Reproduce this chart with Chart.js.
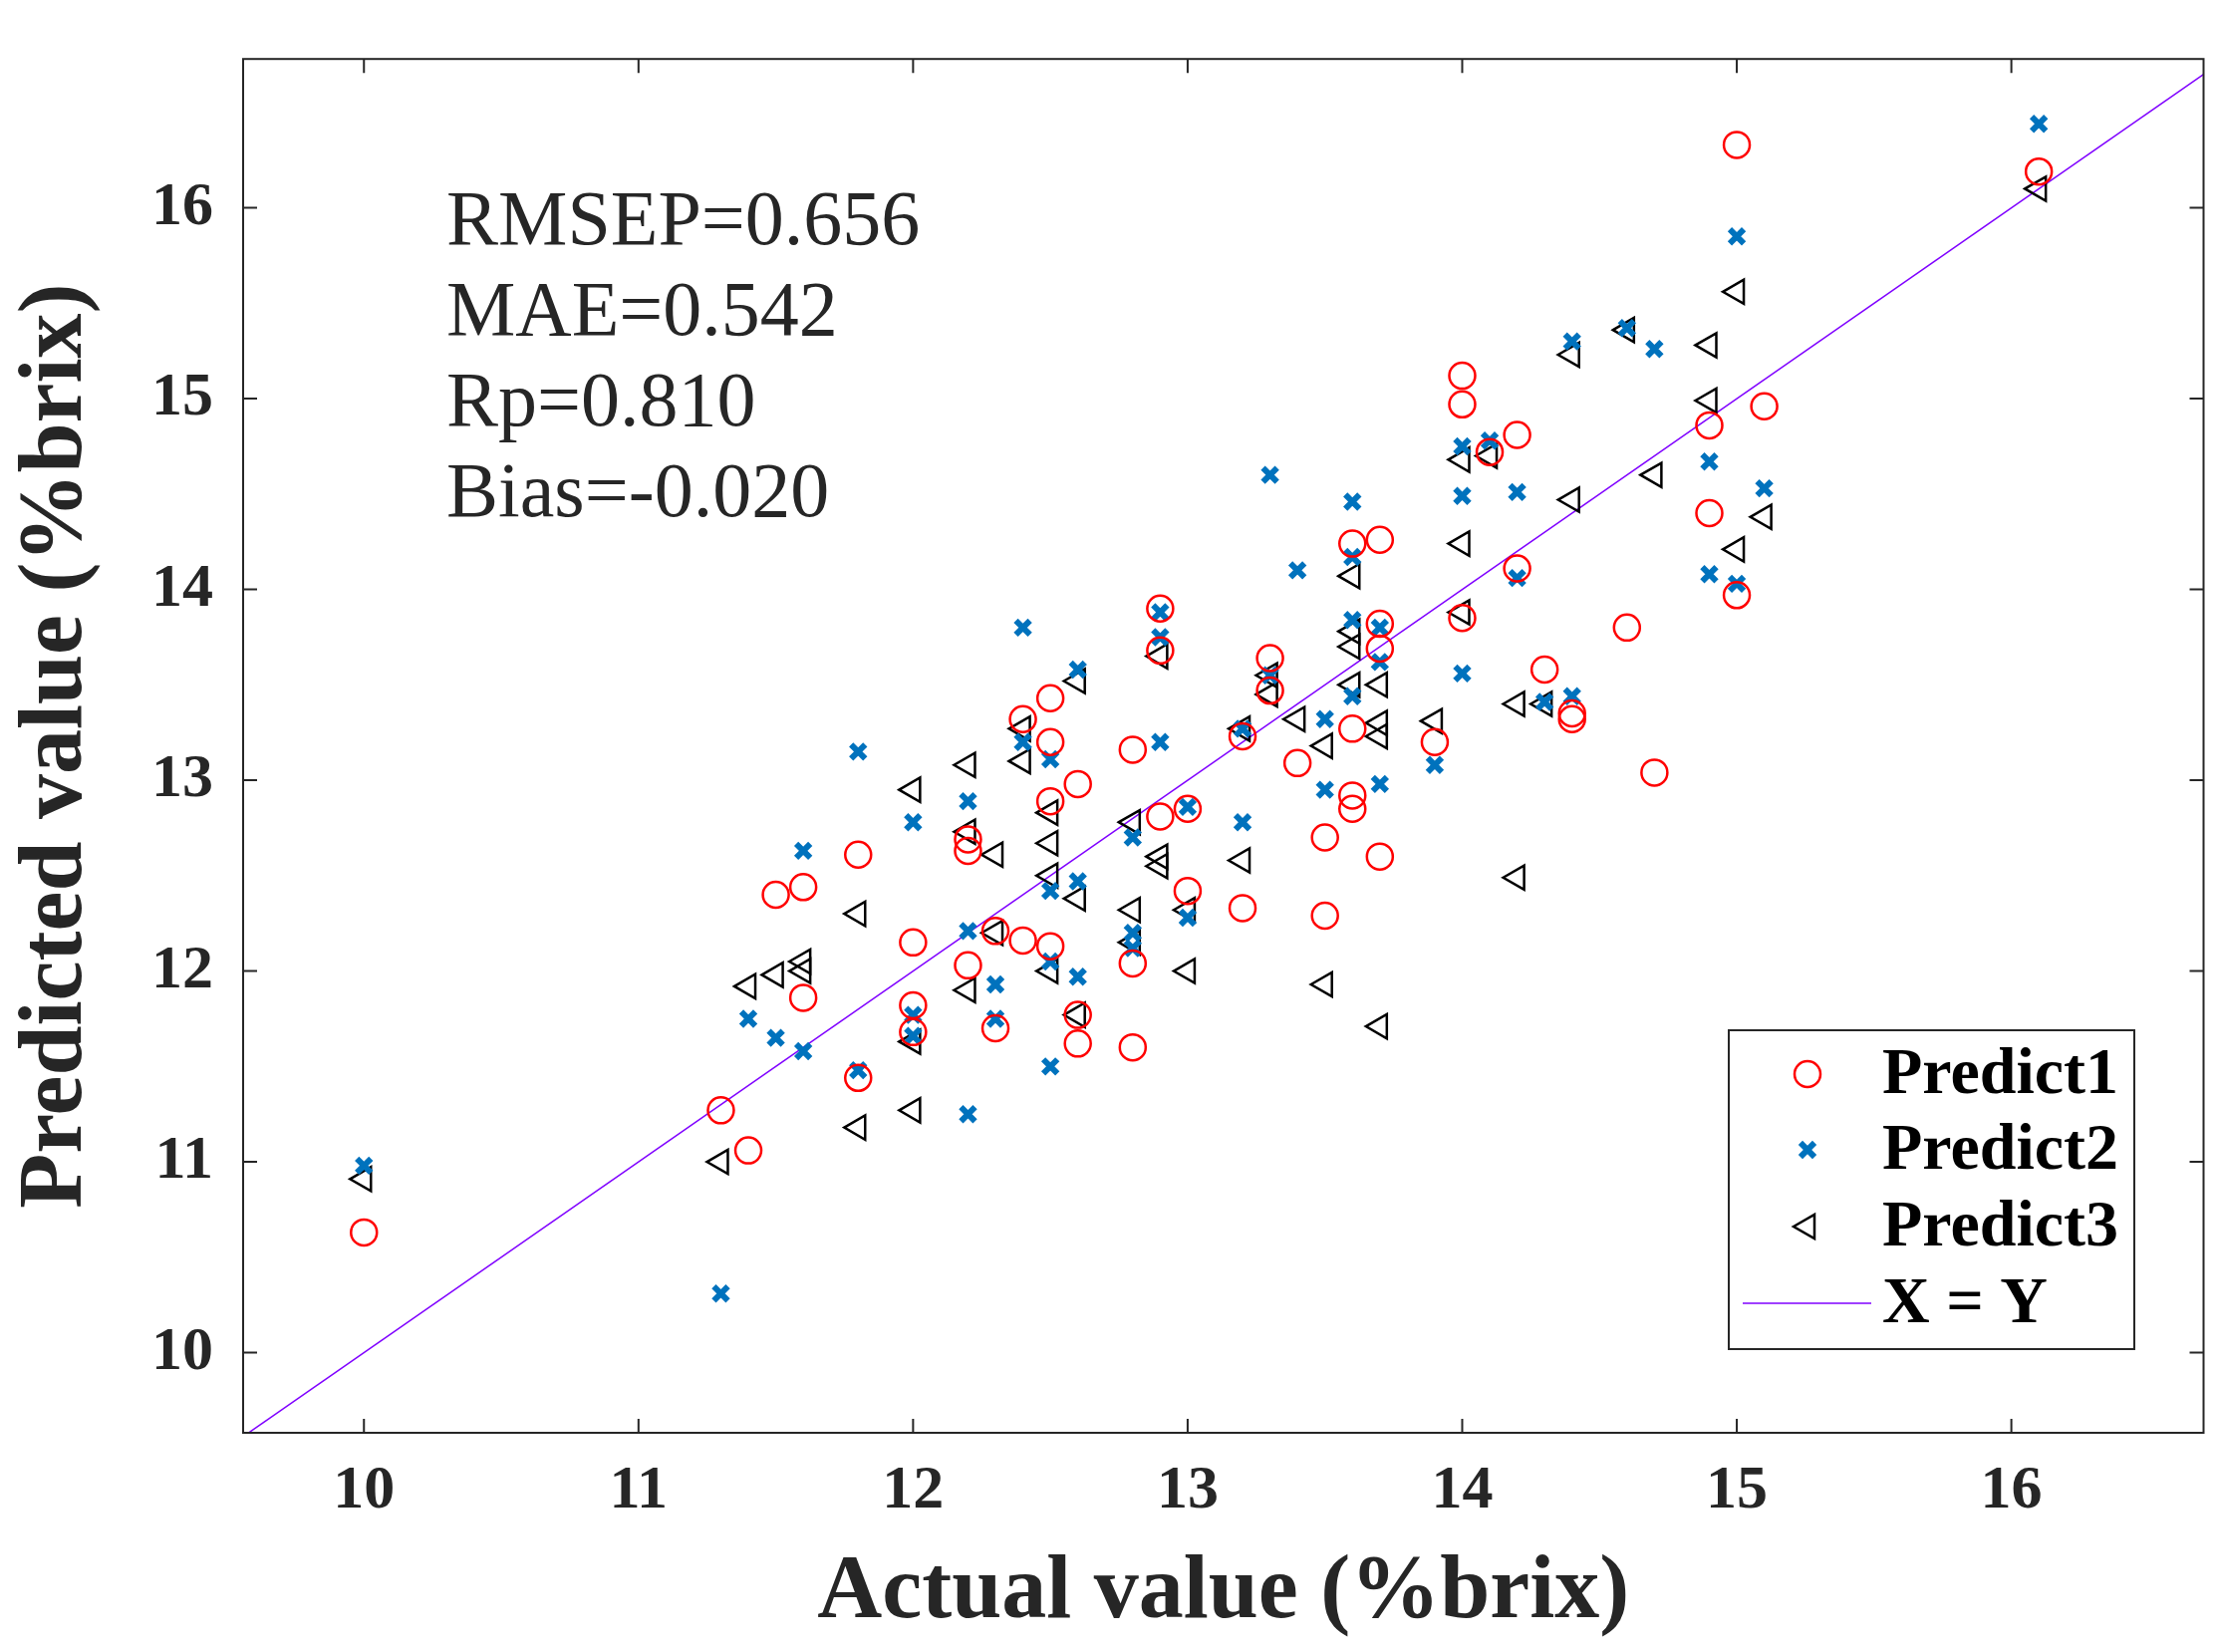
<!DOCTYPE html>
<html><head><meta charset="utf-8">
<script src="https://cdn.jsdelivr.net/npm/chart.js@4"></script>
<style>body{margin:0;background:#fff}</style>
</head><body>
<canvas id="myChart" width="2228" height="1658"></canvas>
<script>
var actual = [10,11.3,11.4,11.5,11.6,11.6,11.8,11.8,12,12,12,12.2,12.2,12.2,12.3,12.3,12.4,12.4,12.5,12.5,12.5,12.5,12.6,12.6,12.6,12.8,12.8,12.8,12.9,12.9,12.9,13,13,13.2,13.2,13.3,13.3,13.4,13.5,13.5,13.6,13.6,13.6,13.6,13.7,13.7,13.7,13.7,13.9,14,14,14,14.1,14.2,14.2,14.3,14.4,14.4,14.6,14.7,14.9,14.9,15,15,15.1,16.1];
var predict1 = [10.63,11.27,11.06,12.4,12.44,11.86,12.61,11.44,12.15,11.82,11.68,12.69,12.63,12.03,12.21,11.7,13.32,12.16,13.43,13.2,12.89,12.13,12.98,11.77,11.62,13.16,12.04,11.6,13.9,13.68,12.81,12.85,12.42,13.23,12.33,13.64,13.47,13.09,12.7,12.29,14.24,13.27,12.92,12.85,14.26,13.82,13.69,12.6,13.2,15.12,14.97,13.85,14.72,14.81,14.11,13.58,13.35,13.32,13.8,13.04,14.86,14.4,16.33,13.97,14.96,16.19];
var predict2 = [10.98,10.31,11.75,11.65,12.63,11.58,13.15,11.48,12.78,11.77,11.66,12.89,12.21,11.25,11.93,11.75,13.8,13.2,13.11,12.42,12.05,11.5,13.58,12.47,11.97,12.7,12.2,12.12,13.88,13.75,13.2,12.86,12.28,13.27,12.78,14.6,13.55,14.1,13.32,12.95,14.46,14.17,13.84,13.44,13.8,13.62,12.98,13.08,14.75,14.49,13.56,14.78,14.51,14.06,13.41,15.3,13.44,15.37,15.26,14.67,14.08,15.85,14.03,14.53,16.44];
var actual2 = [10,11.3,11.4,11.5,11.6,11.6,11.8,11.8,12,12,12,12.2,12.2,12.2,12.3,12.3,12.4,12.4,12.5,12.5,12.5,12.5,12.6,12.6,12.6,12.8,12.8,12.8,12.9,12.9,12.9,13,13,13.2,13.2,13.3,13.3,13.4,13.5,13.5,13.6,13.6,13.6,13.6,13.7,13.7,13.7,13.9,14,14,14,14.1,14.2,14.2,14.3,14.4,14.4,14.6,14.7,14.9,14.9,15,15,15.1,16.1];
var predict3 = [10.91,11.0,11.92,11.98,12.05,12.0,12.3,11.18,12.95,11.63,11.27,13.08,12.73,11.9,12.61,12.2,13.27,13.1,12.83,12.67,12.5,12.0,13.52,12.38,11.77,12.78,12.32,12.15,13.65,12.6,12.55,12.32,12.0,13.27,12.58,13.55,13.45,13.32,13.18,11.93,14.07,13.78,13.7,13.5,13.5,13.3,13.23,11.71,13.31,14.68,14.24,13.88,14.7,13.4,12.49,13.4,15.23,14.47,15.36,14.6,15.28,14.99,15.56,14.21,14.38,16.1];
var xTicks = [10,11,12,13,14,15,16];
var yTicks = [10,11,12,13,14,15,16];
var xRange = [9.56, 16.7];
var yRange = [9.58, 16.78];
var stats = ['RMSEP=0.656','MAE=0.542','Rp=0.810','Bias=-0.020'];
var legendNames = ['Predict1','Predict2','Predict3','X = Y'];

function pts(xs, ys){ return ys.map(function(v,i){ return {x: xs[i], y: v}; }); }

var extras = {
    id: 'extras',
    afterDraw: function(chart){
        var c = chart.ctx, a = chart.chartArea;
        c.save();
        c.strokeStyle = '#262626'; c.lineWidth = 2;
        c.strokeRect(a.left, a.top, a.right - a.left, a.bottom - a.top);
        xTicks.forEach(function(t){
            var px = chart.scales.x.getPixelForValue(t);
            c.beginPath(); c.moveTo(px, a.bottom); c.lineTo(px, a.bottom - 14);
            c.moveTo(px, a.top); c.lineTo(px, a.top + 14); c.stroke();
        });
        yTicks.forEach(function(t){
            var py = chart.scales.y.getPixelForValue(t);
            c.beginPath(); c.moveTo(a.left, py); c.lineTo(a.left + 14, py);
            c.moveTo(a.right, py); c.lineTo(a.right - 14, py); c.stroke();
        });
        c.fillStyle = '#262626';
        c.font = '78px "Liberation Serif"';
        stats.forEach(function(s, i){ c.fillText(s, 448, 245 + i * 91); });
        // legend
        c.fillStyle = '#fff';
        c.fillRect(1735, 1034, 407, 320);
        c.strokeRect(1735, 1034, 407, 320);
        var ys = [1078, 1154, 1231, 1308];
        c.font = 'bold 66px "Liberation Serif"';
        c.textBaseline = 'middle';
        c.fillStyle = '#000';
        legendNames.forEach(function(n, i){ c.fillText(n, 1889, ys[i] + 2); });
        var ds = chart.data.datasets;
        for (var i = 1; i <= 3; i++) {
            var d = ds[i];
            c.strokeStyle = d.borderColor; c.fillStyle = d.backgroundColor; c.lineWidth = d.borderWidth;
            Chart.helpers.drawPoint(c, {pointStyle: d.pointStyle, rotation: d.rotation || 0,
                radius: d.pointRadius, borderWidth: d.borderWidth}, 1814, ys[i - 1]);
        }
        c.strokeStyle = '#7f00ff'; c.lineWidth = 1.5;
        c.beginPath(); c.moveTo(1749, ys[3]); c.lineTo(1878, ys[3]); c.stroke();
        c.restore();
    }
};

var tickFont = {family: 'Liberation Serif', size: 62, weight: 'bold'};
var titleFont = {family: 'Liberation Serif', size: 90, weight: 'bold'};

new Chart(document.getElementById('myChart'), {
    type: 'scatter',
    data: {
        datasets: [
            {label: 'X = Y', type: 'line', data: [{x: xRange[0], y: xRange[0]}, {x: xRange[1], y: xRange[1]}],
             borderColor: '#7f00ff', borderWidth: 1.5, pointRadius: 0, fill: false, order: 5},
            {label: 'Predict1', data: pts(actual, predict1), pointStyle: 'circle', pointRadius: 13,
             borderColor: '#ff0000', backgroundColor: 'rgba(0,0,0,0)', borderWidth: 2.5},
            {label: 'Predict2', data: pts(actual2, predict2), pointStyle: 'crossRot', pointRadius: 10,
             borderColor: '#0072bd', backgroundColor: '#0072bd', borderWidth: 6},
            {label: 'Predict3', data: pts(actual, predict3), pointStyle: 'triangle', rotation: -90, pointRadius: 14,
             borderColor: '#000', backgroundColor: 'rgba(0,0,0,0)', borderWidth: 2.5}
        ]
    },
    options: {
        responsive: false, animation: false,
        layout: {padding: {top: -16, right: 13, left: 0, bottom: 0}},
        plugins: {legend: {display: false}, tooltip: {enabled: false}},
        scales: {
            x: {
                type: 'linear', min: xRange[0], max: xRange[1],
                afterBuildTicks: function(s){ s.ticks = xTicks.map(function(v){ return {value: v}; }); },
                afterFit: function(s){ s.height = 220; },
                grid: {display: false}, border: {display: false},
                ticks: {font: tickFont, color: '#262626', padding: 14},
                title: {display: true, text: 'Actual value (%brix)', font: titleFont, color: '#262626', padding: {top: 0}}
            },
            y: {
                type: 'linear', min: yRange[0], max: yRange[1],
                afterBuildTicks: function(s){ s.ticks = yTicks.map(function(v){ return {value: v}; }); },
                afterFit: function(s){ s.width = 244; },
                grid: {display: false}, border: {display: false},
                ticks: {font: tickFont, color: '#262626', padding: 22},
                title: {display: true, text: 'Predicted value (%brix)', font: titleFont, color: '#262626', padding: {bottom: 4}}
            }
        }
    },
    plugins: [extras]
});
</script>
</body></html>
